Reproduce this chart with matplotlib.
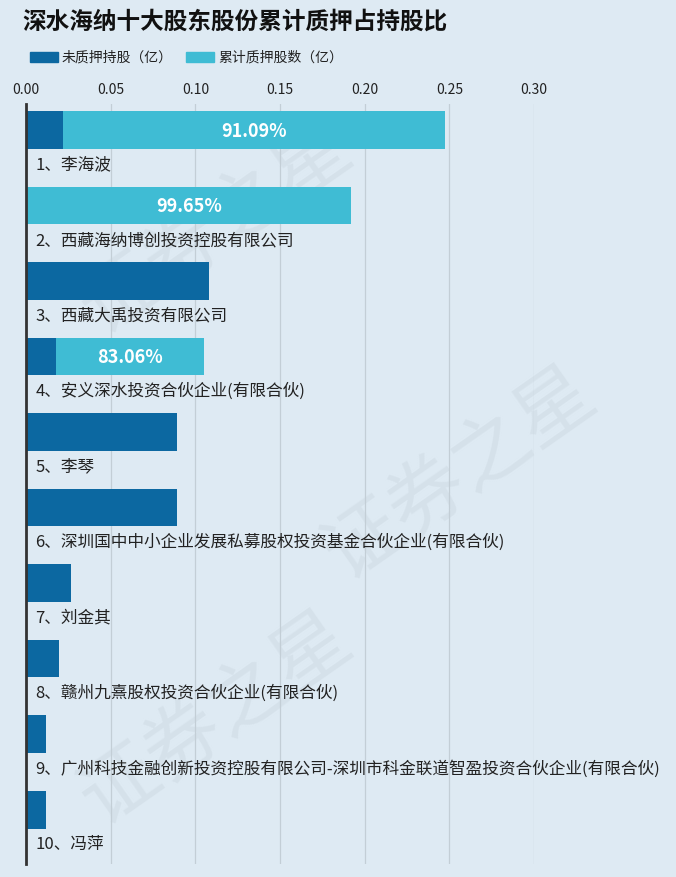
import matplotlib
matplotlib.use("Agg")
import matplotlib.pyplot as plt
import numpy as np

plt.rcParams['font.family'] = ['Noto Sans CJK SC', 'DejaVu Sans']

# data
names = ['1、李海波', '2、西藏海纳博创投资控股有限公司', '3、西藏大禹投资有限公司',
         '4、安义深水投资合伙企业(有限合伙)', '5、李琴',
         '6、深圳国中中小企业发展私募股权投资基金合伙企业(有限合伙)', '7、刘金其',
         '8、赣州九熹股权投资合伙企业(有限合伙)',
         '9、广州科技金融创新投资控股有限公司-深圳市科金联道智盈投资合伙企业(有限合伙)',
         '10、冯萍']
unpledged = [0.0220, 0.0007, 0.1080, 0.0178, 0.0892, 0.0892, 0.0266, 0.0195, 0.0118, 0.0118]
pledged = [0.2255, 0.1913, 0, 0.0874, 0, 0, 0, 0, 0, 0]
pct_labels = ['91.09%', '99.65%', '', '83.06%', '', '', '', '', '', '']
xticks = [0.00, 0.05, 0.10, 0.15, 0.20, 0.25, 0.30]

bg = '#deeaf3'
dark = '#0c68a1'
light = '#3fbcd4'

fig = plt.figure(figsize=(6.76, 8.78), dpi=100, facecolor=bg)

# faint watermark behind everything
for wx, wy in [(0.32, 0.74), (0.68, 0.46), (0.32, 0.18)]:
    fig.text(wx, wy, '证券之星', fontsize=56, color='#cdd9e2', alpha=0.5, rotation=35,
             ha='center', va='center', zorder=0)

ax = fig.add_axes([26 / 676, 1 - 865 / 878, (534 - 26) / 676, (865 - 105) / 878])
ax.set_zorder(1)
ax.patch.set_alpha(0)

y = np.arange(len(names))
ax.barh(y, unpledged, height=0.5, color=dark, zorder=3)
ax.barh(y, pledged, left=unpledged, height=0.5, color=light, zorder=3)

for i in range(len(names)):
    ax.text(0.0055, i + 0.45, names[i], fontsize=12, color='#222222', va='center', ha='left',
            zorder=4, clip_on=False)
    if pct_labels[i]:
        ax.text(unpledged[i] + pledged[i] / 2, i, pct_labels[i], fontsize=13, color='white',
                fontweight='bold', va='center', ha='center', zorder=4)

ax.set_xlim(0, 0.30)
ax.set_ylim(9.72, -0.345)
ax.xaxis.tick_top()
ax.set_xticks(xticks)
ax.set_xticklabels(['%.2f' % t for t in xticks], fontsize=10, color='#222222')
ax.tick_params(axis='x', length=0, pad=6)
ax.set_yticks([])
ax.grid(axis='x', color='#c3ced6', linewidth=0.9, zorder=0)
for s in ['top', 'right', 'bottom']:
    ax.spines[s].set_visible(False)
ax.spines['left'].set_color('#333333')
ax.spines['left'].set_linewidth(2)
ax.spines['left'].set_zorder(5)

# title and legend
fig.text(22 / 676, 1 - 22 / 878, '深水海纳十大股东股份累计质押占持股比', fontsize=17,
         fontweight='bold', color='#111111', va='center', ha='left')
fig.patches.append(plt.Rectangle((30 / 676, 1 - 63 / 878), 28 / 676, 10 / 878,
                                 transform=fig.transFigure, color=dark))
fig.text(62 / 676, 1 - 58 / 878, '未质押持股（亿）', fontsize=10, color='#222222', va='center')
fig.patches.append(plt.Rectangle((186 / 676, 1 - 63 / 878), 28 / 676, 10 / 878,
                                 transform=fig.transFigure, color=light))
fig.text(218 / 676, 1 - 58 / 878, '累计质押股数（亿）', fontsize=10, color='#222222', va='center')

fig.savefig('out.png', dpi=100, facecolor=bg)
